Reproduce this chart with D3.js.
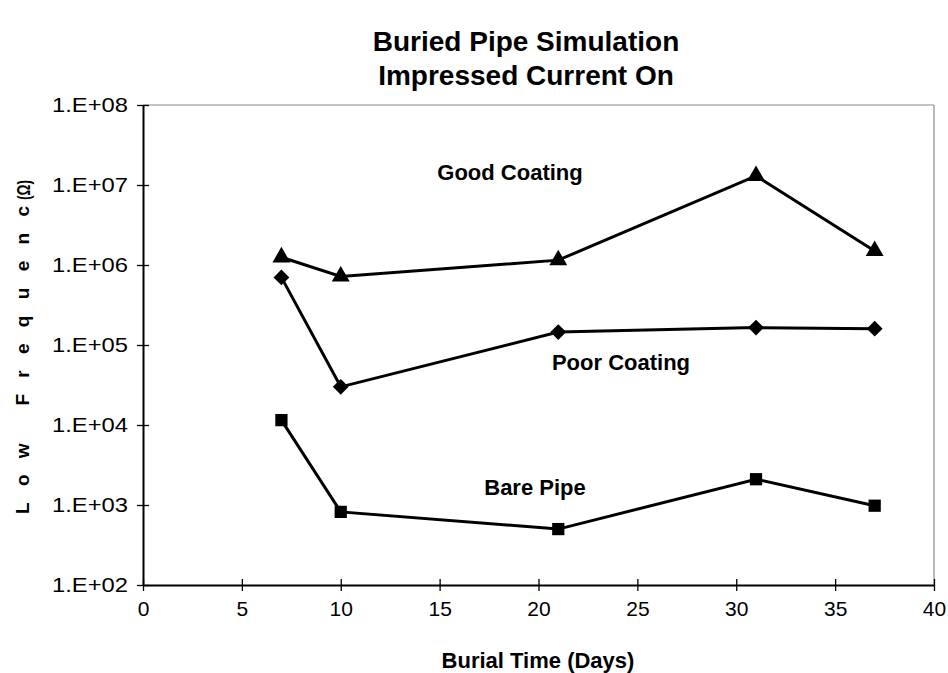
<!DOCTYPE html>
<html>
<head>
<meta charset="utf-8">
<script src="https://cdn.jsdelivr.net/npm/d3@7"></script>
<style>
  body { margin: 0; background: #fff; }
  text { font-family: Arial, "Liberation Sans", sans-serif; fill: #000; }
</style>
</head>
<body>
<svg id="chart" width="948" height="673"></svg>
<script>
// burial time in days
const days = [7, 10, 21, 31, 37];
// low frequency impedance (ohm)
const goodCoating = [1.25e6, 7.2e5, 1.15e6, 1.3e7, 1.5e6];
const poorCoating = [7.0e5, 3.0e4, 1.45e5, 1.65e5, 1.6e5];
const barePipe = [1.15e4, 8.2e2, 5.0e2, 2.1e3, 9.8e2];

const xTicks = [0, 5, 10, 15, 20, 25, 30, 35, 40];
const yTicks = [1e2, 1e3, 1e4, 1e5, 1e6, 1e7, 1e8];

const seriesList = [
    {name: "Good Coating", values: goodCoating, symbol: d3.symbolTriangle, size: 140, rot: 0, label: [510, 172]},
    {name: "Poor Coating", values: poorCoating, symbol: d3.symbolSquare, size: 125, rot: 45, label: [621, 362]},
    {name: "Bare Pipe", values: barePipe, symbol: d3.symbolSquare, size: 150, rot: 0, label: [535, 487]}
];

function onload() {
    let svg = d3.select("#chart");
    let left = 143, right = 934, top = 105, bottom = 585;

    let x = d3.scaleLinear().domain([0, 40]).range([left, right]);
    let y = d3.scaleLog().domain([1e2, 1e8]).range([bottom, top]);

    // title
    let title = svg.append("text")
        .attr("text-anchor", "middle")
        .style("font-size", "28px")
        .style("font-weight", "bold");
    title.append("tspan").attr("x", 526).attr("y", 51).text("Buried Pipe Simulation");
    title.append("tspan").attr("x", 526).attr("y", 85).text("Impressed Current On");

    // frame: top and right are faint
    svg.append("line")
        .attr("x1", left).attr("x2", right).attr("y1", top).attr("y2", top)
        .style("stroke", "#8a8a8a").style("stroke-width", 1.2);
    svg.append("line")
        .attr("x1", right).attr("x2", right).attr("y1", top).attr("y2", bottom)
        .style("stroke", "#8a8a8a").style("stroke-width", 1.2);

    let xAxis = d3.axisBottom(x).tickValues(xTicks).tickSize(6).tickPadding(10).tickSizeOuter(0);
    let gx = svg.append("g").attr("transform", `translate(0,${bottom})`).call(xAxis);
    gx.selectAll(".tick line").attr("y1", -6).style("stroke", "#000").style("stroke-width", 1.3);
    gx.select(".domain").style("stroke", "#000").style("stroke-width", 2);
    gx.selectAll("text").style("font-size", "21px").style("font-family", "Arial, 'Liberation Sans', sans-serif");

    let yAxis = d3.axisLeft(y).tickValues(yTicks).tickSize(6).tickPadding(10).tickSizeOuter(0)
        .tickFormat(d => "1.E+" + String(Math.round(Math.log10(d))).padStart(2, "0"));
    let gy = svg.append("g").attr("transform", `translate(${left},0)`).call(yAxis);
    gy.selectAll(".tick line").attr("x2", 6).attr("x1", -6).style("stroke", "#000").style("stroke-width", 1.3);
    gy.select(".domain").style("stroke", "#000").style("stroke-width", 2);
    gy.selectAll("text").attr("x", -15)
        .attr("textLength", 76).attr("lengthAdjust", "spacingAndGlyphs")
        .style("font-size", "21px").style("font-family", "Arial, 'Liberation Sans', sans-serif");

    // axis titles
    svg.append("text")
        .attr("x", 538).attr("y", 668)
        .attr("text-anchor", "middle")
        .style("font-size", "22px")
        .style("font-weight", "bold")
        .text("Burial Time (Days)");

    svg.append("text")
        .attr("transform", "translate(29,514) rotate(-90)")
        .attr("textLength", 308)
        .attr("lengthAdjust", "spacing")
        .style("font-size", "19px")
        .style("font-weight", "bold")
        .text("Low Frequenc");
    svg.append("text")
        .attr("transform", "translate(30,200) rotate(-90)")
        .attr("textLength", 20)
        .attr("lengthAdjust", "spacingAndGlyphs")
        .style("font-size", "19px")
        .style("font-weight", "bold")
        .text("(Ω)");

    let line = d3.line().x(d => x(d[0])).y(d => y(d[1]));

    seriesList.forEach(s => {
        let pts = days.map((d, i) => [d, s.values[i]]);
        svg.append("path")
            .datum(pts)
            .attr("d", line)
            .style("fill", "none")
            .style("stroke", "#000")
            .style("stroke-width", 3);

        svg.selectAll(null)
            .data(pts)
            .enter()
            .append("path")
            .attr("d", d3.symbol().type(s.symbol).size(s.size))
            .attr("transform", d => `translate(${x(d[0])},${y(d[1])}) rotate(${s.rot})`)
            .style("fill", "#000");

        svg.append("text")
            .attr("x", s.label[0]).attr("y", s.label[1] + 8)
            .attr("text-anchor", "middle")
            .style("font-size", "22px")
            .style("font-weight", "bold")
            .text(s.name);
    });
}

onload();
</script>
</body>
</html>
